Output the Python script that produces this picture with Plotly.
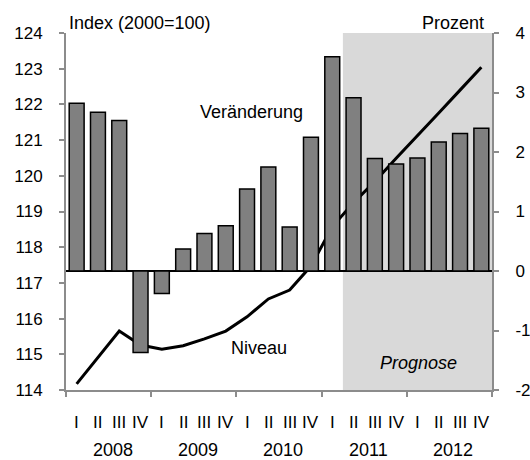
import plotly.graph_objects as go

# Quarterly data 2008-2012
years = ["2008", "2009", "2010", "2011", "2012"]
quarters = ["I", "II", "III", "IV"]

# Veränderung gegenüber Vorjahresquartal (Prozent, rechte Achse)
veraenderung = [2.82, 2.67, 2.53, -1.37,
                -0.38, 0.37, 0.63, 0.76,
                1.38, 1.75, 0.74, 2.25,
                3.60, 2.91, 1.89, 1.80,
                1.90, 2.17, 2.31, 2.40]

# Niveau (Index 2000=100, linke Achse)
niveau = [114.17, 114.91, 115.65, 115.26,
          115.14, 115.24, 115.43, 115.65,
          116.05, 116.55, 116.80, 117.47,
          118.57, 119.25, 119.84, 120.49,
          121.14, 121.76, 122.40, 123.04]

# Tick labels of the two value axes
left_ticks = list(range(114, 125))
right_ticks = list(range(-2, 5))

prognose_start = 13  # first forecast quarter (2011 II)

n = len(veraenderung)
x = list(range(n))
FONT = "Liberation Sans, Arial, sans-serif"
AXIS_GREY = "#8c8c8c"

fig = go.Figure()

fig.add_trace(go.Bar(
    x=x, y=veraenderung, yaxis="y2",
    marker=dict(color="#808080", line=dict(color="black", width=1.5)),
    showlegend=False,
))
fig.add_trace(go.Scatter(
    x=x, y=niveau, yaxis="y", mode="lines",
    line=dict(color="black", width=3),
    showlegend=False,
))

# Forecast shading
fig.add_shape(type="rect", xref="x", yref="paper",
              x0=prognose_start - 0.5, x1=n - 0.5, y0=0, y1=1,
              fillcolor="#d9d9d9", line=dict(width=0), layer="below")

axis_common = dict(
    ticks="outside", ticklen=5, tickcolor=AXIS_GREY, tickwidth=2,
    showline=True, linecolor=AXIS_GREY, linewidth=2, showgrid=False,
    automargin=False,
)

fig.update_layout(
    width=530, height=460,
    margin=dict(l=66, r=38, t=33, b=70),
    paper_bgcolor="white", plot_bgcolor="white",
    font=dict(family=FONT, size=17, color="black"),
    bargap=0.3,
    xaxis=dict(
        range=[-0.5, n - 0.5],
        tickvals=[i * 4 - 0.5 for i in range(len(years) + 1)],
        ticktext=[""] * (len(years) + 1),
        zeroline=False, **axis_common,
    ),
    yaxis=dict(
        range=[114, 124], tickmode="array",
        tickvals=left_ticks, ticktext=[str(v) for v in left_ticks],
        zeroline=False, ticklabelstandoff=13,
        tickfont=dict(size=17), **axis_common,
    ),
    yaxis2=dict(
        range=[-2, 4], overlaying="y", side="right", tickmode="array",
        tickvals=right_ticks, ticktext=[str(v) for v in right_ticks],
        zeroline=True, zerolinecolor="black", zerolinewidth=1.5,
        ticklabelstandoff=13,
        tickfont=dict(size=17), **axis_common,
    ),
)

annotations = []
# Quarter labels
for i in range(n):
    annotations.append(dict(
        x=i, y=-0.092, xref="x", yref="paper",
        text=quarters[i % 4], showarrow=False,
        font=dict(size=17), xanchor="center", yanchor="middle",
    ))
# Year labels
for j, yr in enumerate(years):
    annotations.append(dict(
        x=j * 4 + 1.5, y=-0.168, xref="x", yref="paper",
        text=yr, showarrow=False, xshift=4,
        font=dict(size=18), xanchor="center", yanchor="middle",
    ))
# Axis titles and series labels
annotations += [
    dict(x=0, y=1.028, xref="paper", yref="paper", text="Index (2000=100)",
         showarrow=False, xanchor="left", yanchor="middle", xshift=1,
         font=dict(size=18)),
    dict(x=1, y=1.028, xref="paper", yref="paper", text="Prozent",
         showarrow=False, xanchor="right", yanchor="middle", xshift=-6,
         font=dict(size=18)),
    dict(x=8.19, y=121.79, xref="x", yref="y", text="Veränderung",
         showarrow=False, xanchor="center", yanchor="middle",
         font=dict(size=18)),
    dict(x=8.56, y=115.18, xref="x", yref="y", text="Niveau",
         showarrow=False, xanchor="center", yanchor="middle",
         font=dict(size=18)),
    dict(x=16.05, y=114.76, xref="x", yref="y", text="<i>Prognose</i>",
         showarrow=False, xanchor="center", yanchor="middle",
         font=dict(size=18)),
]
fig.update_layout(annotations=annotations)

fig.write_html("out.html")
